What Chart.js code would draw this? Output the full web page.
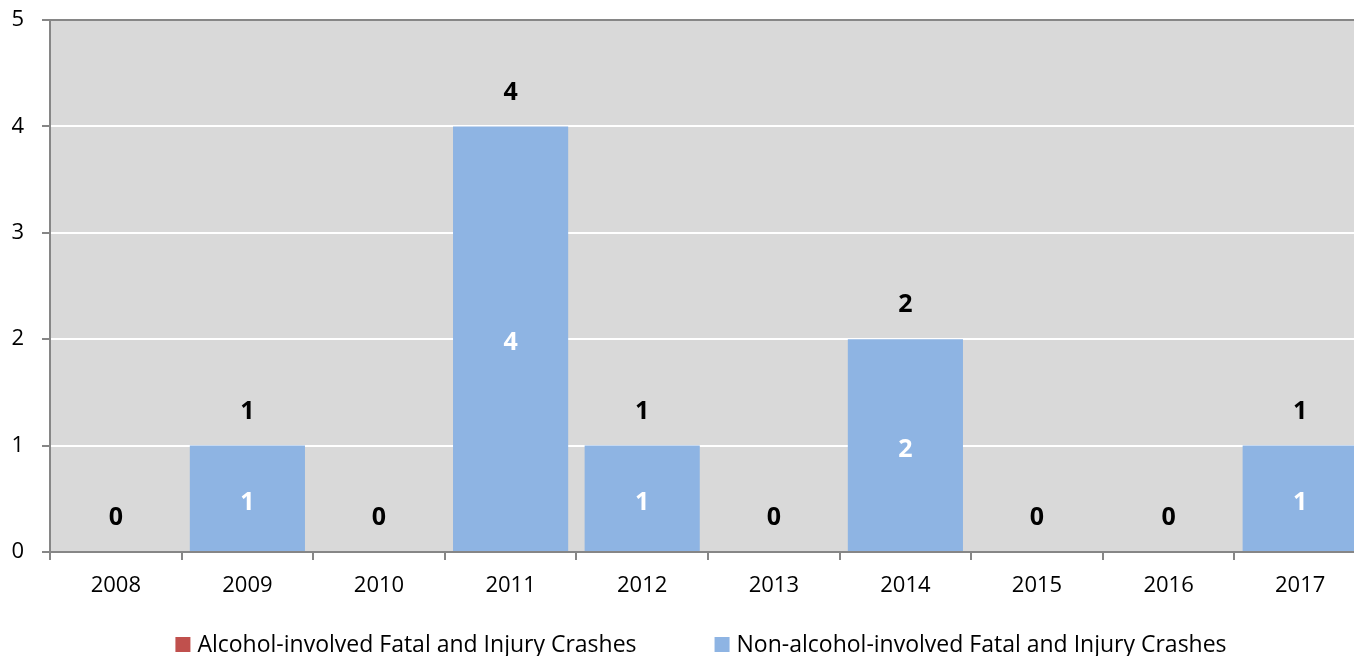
<!DOCTYPE html>
<html>
<head>
<meta charset="utf-8">
<script src="https://cdn.jsdelivr.net/npm/chart.js@4.4.1/dist/chart.umd.min.js"></script>
<style>
  html, body { margin: 0; padding: 0; background: #fff; overflow: hidden; }
  #wrap { width: 1354px; height: 656px; overflow: hidden; }
  #box { width: 1402px; height: 656px; }
</style>
</head>
<body>
<div id="wrap"><div id="box"><canvas id="crashChart"></canvas></div></div>
<script>
// data
const years = ['2008', '2009', '2010', '2011', '2012', '2013', '2014', '2015', '2016', '2017'];
const alcoholCrashes = [0, 0, 0, 0, 0, 0, 0, 0, 0, 0];
const nonAlcoholCrashes = [0, 1, 0, 4, 1, 0, 2, 0, 0, 1];
const yTicks = [0, 1, 2, 3, 4, 5];

const FONT = 'Open Sans';
const AXIS_GRAY = '#868686';

// gray plot background
const plotBg = {
    id: 'plotBg',
    beforeDraw(chart) {
        const a = chart.chartArea;
        const ctx = chart.ctx;
        ctx.save();
        ctx.fillStyle = '#D9D9D9';
        ctx.fillRect(a.left, a.top, a.right - a.left, a.bottom - a.top);
        ctx.restore();
    }
};

// value labels: white inside blue bars, black totals above each stack
const barLabels = {
    id: 'barLabels',
    afterDatasetsDraw(chart) {
        const ctx = chart.ctx;
        const x = chart.scales.x;
        const y = chart.scales.y;
        ctx.save();
        ctx.textAlign = 'center';
        ctx.textBaseline = 'middle';
        ctx.font = 'bold 25px "' + FONT + '"';
        years.forEach(function(yr, i) {
            const cx = x.getPixelForValue(i);
            const v = nonAlcoholCrashes[i];
            const total = v + alcoholCrashes[i];
            if (v > 0) {
                ctx.fillStyle = '#FFFFFF';
                const mid = (y.getPixelForValue(alcoholCrashes[i]) + y.getPixelForValue(total)) / 2;
                ctx.fillText(String(v), cx, mid + 4);
            }
            ctx.fillStyle = '#000000';
            ctx.fillText(String(total), cx, y.getPixelForValue(total) - 34);
        });
        ctx.restore();
    }
};

// legend drawn under the axis, items centred on the canvas
const bottomLegend = {
    id: 'bottomLegend',
    afterDraw(chart) {
        const ctx = chart.ctx;
        const sets = chart.data.datasets;
        const box = 15, gap = 7, spacing = 78, cy = 644.5;
        ctx.save();
        ctx.font = '23px "' + FONT + '"';
        ctx.textBaseline = 'middle';
        ctx.textAlign = 'left';
        const widths = sets.map(function(ds) { return ctx.measureText(ds.label).width; });
        let total = spacing * (sets.length - 1);
        widths.forEach(function(w) { total += box + gap + w; });
        let cx = (chart.width - total) / 2;
        sets.forEach(function(ds, i) {
            ctx.fillStyle = ds.backgroundColor;
            ctx.fillRect(cx, cy - box / 2, box, box);
            ctx.fillStyle = '#000';
            ctx.fillText(ds.label, cx + box + gap, cy + 1);
            cx += box + gap + widths[i] + spacing;
        });
        ctx.restore();
    }
};

const ctx = document.getElementById('crashChart').getContext('2d');
new Chart(ctx, {
    type: 'bar',
    data: {
        labels: years,
        datasets: [
            {
                label: 'Alcohol-involved Fatal and Injury Crashes',
                data: alcoholCrashes,
                backgroundColor: '#C0504D',
                borderWidth: 0,
                categoryPercentage: 1,
                barPercentage: 0.875
            },
            {
                label: 'Non-alcohol-involved Fatal and Injury Crashes',
                data: nonAlcoholCrashes,
                backgroundColor: '#8EB4E3',
                borderWidth: 0,
                categoryPercentage: 1,
                barPercentage: 0.875
            }
        ]
    },
    options: {
        responsive: true,
        maintainAspectRatio: false,
        animation: false,
        layout: {
            padding: { top: 20, right: 36, left: 0, bottom: 54 }
        },
        plugins: {
            legend: { display: false },
            tooltip: { enabled: false }
        },
        scales: {
            x: {
                stacked: true,
                grid: {
                    display: true,
                    drawOnChartArea: false,
                    drawTicks: true,
                    tickLength: 8,
                    tickColor: AXIS_GRAY,
                    offset: true,
                    lineWidth: 2
                },
                border: { color: AXIS_GRAY, width: 2 },
                ticks: {
                    font: { family: FONT, size: 22 },
                    color: '#000',
                    padding: 13
                },
                afterFit: function(scale) {
                    scale.height = 50;
                    scale.paddingLeft = 0;
                    scale.paddingRight = 0;
                }
            },
            y: {
                stacked: true,
                min: 0,
                max: 5,
                afterBuildTicks: function(scale) {
                    scale.ticks = yTicks.map(function(v) { return { value: v }; });
                },
                grid: {
                    color: function(c) {
                        const v = c.tick ? c.tick.value : null;
                        return (v === 0 || v === 5) ? AXIS_GRAY : '#FFFFFF';
                    },
                    lineWidth: 2,
                    tickLength: 8,
                    tickColor: AXIS_GRAY
                },
                border: { color: AXIS_GRAY, width: 2 },
                ticks: {
                    font: { family: FONT, size: 22 },
                    color: '#000',
                    padding: 18
                },
                afterFit: function(scale) {
                    scale.width = 50;
                    scale.paddingTop = 0;
                    scale.paddingBottom = 0;
                }
            }
        }
    },
    plugins: [plotBg, barLabels, bottomLegend]
});
</script>
</body>
</html>
